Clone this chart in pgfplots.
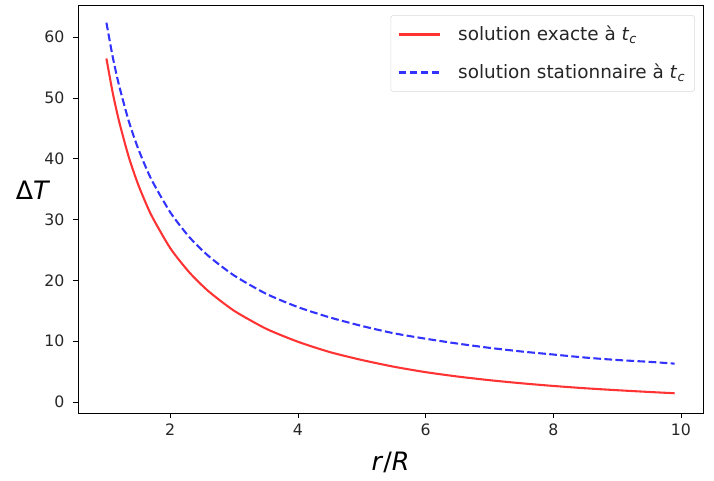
\documentclass[border=0pt]{standalone}
\usepackage{fontspec}
\setmainfont{DejaVu Sans}
\usepackage{pgfplots}
\pgfplotsset{compat=1.18}
\definecolor{myred}{RGB}{255,51,51}
\definecolor{myblue}{RGB}{51,51,255}
\begin{document}
\begin{tikzpicture}
\useasboundingbox (-58.5pt,-51pt) rectangle (477pt,309.75pt);
\begin{axis}[
  at={(0,0)}, anchor=south west,
  scale only axis, width=468.75pt, height=306pt,
  xmin=0.555, xmax=10.345, ymin=-1.82, ymax=65.3,
  xtick={2,4,6,8,10}, ytick={0,10,20,30,40,50,60},
  xtick pos=bottom, ytick pos=left, tick align=outside,
  major tick length=3.6pt,
  every tick/.style={black, line width=0.6pt},
  axis line style={black, line width=0.6pt},
  /pgf/number format/assume math mode=true,
  tick label style={font=\fontsize{11.8}{14}\selectfont, text=black!85},
  yticklabel style={xshift=-3pt},
  xticklabel style={yshift=-1pt},
  xlabel={\textit{r}/\textit{R}},
  ylabel={Δ\textit{T}},
  label style={font=\fontsize{19}{22}\selectfont},
  xlabel style={at={(axis description cs:0.5,-0.122)}, anchor=center},
  ylabel style={rotate=-90, at={(axis description cs:-0.072,0.547)}, anchor=center},
  legend style={at={(axis description cs:0.987,0.975)}, anchor=north east,
    draw=black!15, rounded corners=2pt, font=\fontsize{13.8}{16}\selectfont,
    text=black!85, inner xsep=5pt, inner ysep=6pt, row sep=12pt,
    /tikz/every odd column/.append style={column sep=11pt}},
  legend cell align=left,
  legend image code/.code={\draw[#1] (0pt,0pt) -- (31pt,0pt);},
]
\addplot[myred, line width=1.56pt, smooth, tension=0.4] coordinates {
(1.0,56.5) (1.1,50.8) (1.2,46.1) (1.35,40.3) (1.5,35.7) (1.7,30.8) (2.0,25.3)
(2.3,21.3) (2.6,18.2) (3.0,15.0) (3.5,12.05) (4.0,9.9) (4.5,8.2) (5.0,6.9)
(5.5,5.8) (6.0,4.9) (6.5,4.18) (7.0,3.58) (7.5,3.07) (8.0,2.63) (8.5,2.25)
(9.0,1.93) (9.5,1.64) (9.9,1.43)
};
\addlegendentry{solution exacte à \textit{t}\textsubscript{\textit{c}}}
\addplot[myblue, line width=1.56pt, dash pattern=on 5.8pt off 2.5pt, smooth, tension=0.4] coordinates {
(1.0,62.4) (1.1,56.7) (1.2,52.0) (1.35,46.2) (1.5,41.6) (1.7,36.7) (2.0,31.2)
(2.3,27.1) (2.6,24.0) (3.0,20.8) (3.5,17.8) (4.0,15.6) (4.5,13.9) (5.0,12.5)
(5.5,11.3) (6.0,10.4) (6.5,9.6) (7.0,8.9) (7.5,8.3) (8.0,7.8) (8.5,7.3)
(9.0,6.9) (9.5,6.6) (9.9,6.3)
};
\addlegendentry{solution stationnaire à \textit{t}\textsubscript{\textit{c}}}
\end{axis}
\end{tikzpicture}
\end{document}
